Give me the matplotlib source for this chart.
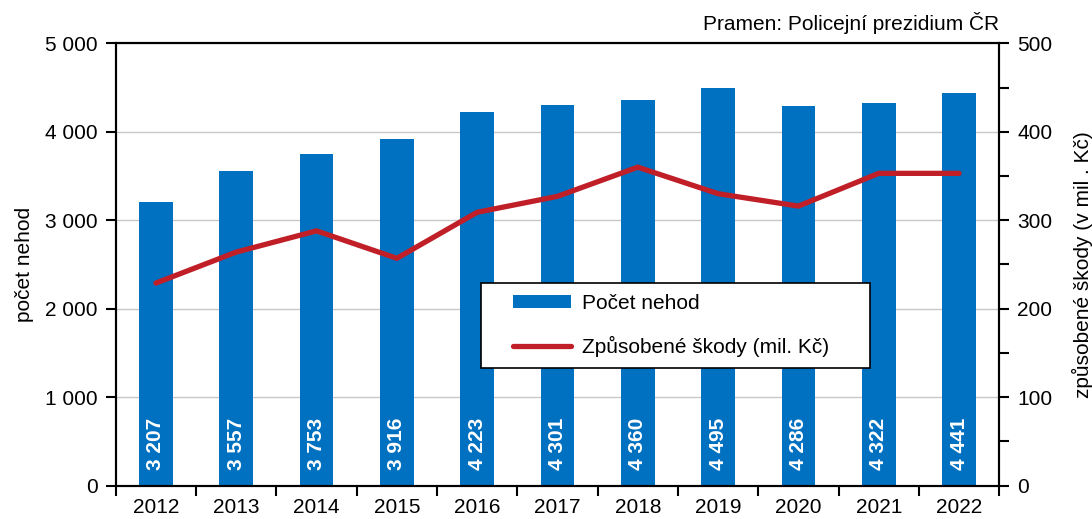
import numpy as np
import matplotlib
matplotlib.use('Agg')
import matplotlib.pyplot as plt
from matplotlib.patches import Rectangle
from matplotlib.ticker import MultipleLocator, FuncFormatter

# data
years = ['2012', '2013', '2014', '2015', '2016', '2017', '2018', '2019', '2020', '2021', '2022']
nehody = [3207, 3557, 3753, 3916, 4223, 4301, 4360, 4495, 4286, 4322, 4441]
skody = [229, 264, 288, 257, 309, 327, 360, 330, 316, 353, 353]

bar_color = '#0070C0'
line_color = '#C01F28'

plt.rcParams['font.family'] = ['Liberation Sans', 'DejaVu Sans']
plt.rcParams['font.size'] = 15

def thousands(v, pos):
    return '{:,.0f}'.format(v).replace(',', ' ')

W, H = 1092, 519
fig = plt.figure(figsize=(W / 100, H / 100), dpi=100)
ax = fig.add_axes([0.106, 0.0642, 0.809, 0.8524])
ax2 = ax.twinx()

x = np.arange(len(years))
bars = ax.bar(x, nehody, width=0.42, color=bar_color, zorder=2, label='Počet nehod')
line, = ax2.plot(x, skody, color=line_color, lw=3.8, solid_capstyle='round',
                 solid_joinstyle='miter', label='Způsobené škody (mil. Kč)')

# value labels inside bars
for xi, v in zip(x, nehody):
    ax.annotate(thousands(v, None), (xi, 0), xytext=(0, 11), textcoords='offset points',
                rotation=90, ha='center', va='bottom', color='white',
                fontweight='bold', fontsize=15, zorder=3)

ax.set_xlim(-0.5, len(years) - 0.5)
ax.set_ylim(0, 5000)
ax2.set_ylim(0, 500)

ax.set_xticks(x)
ax.set_xticklabels(years)
ax.set_xticks(np.arange(-0.5, len(years)), minor=True)
ax.tick_params(axis='x', which='major', length=0, pad=9)
ax.tick_params(axis='x', which='minor', length=7, width=1.5, direction='out')

ax.yaxis.set_major_locator(MultipleLocator(1000))
ax.yaxis.set_major_formatter(FuncFormatter(thousands))
ax.tick_params(axis='y', length=7, width=1.5, direction='out', pad=6)

ax2.yaxis.set_major_locator(MultipleLocator(100))
ax2.yaxis.set_minor_locator(MultipleLocator(50))
ax2.tick_params(axis='y', which='both', length=7, width=1.5, direction='out', pad=6)

ax.grid(axis='y', color='#c8c8c8', lw=1, zorder=0)
ax.set_axisbelow(True)

for a in (ax, ax2):
    for s in a.spines.values():
        s.set_linewidth(1.5)
        s.set_color('black')

ax.set_ylabel('počet nehod', labelpad=8)
ax2.set_ylabel('způsobené škody (v mil . Kč)', rotation=90, labelpad=14)

ax.text(1.0, 1.02, 'Pramen: Policejní prezidium ČR', transform=ax.transAxes,
        ha='right', va='bottom')

# legend box drawn separately so the padding matches the original
box = Rectangle((481 / W, 1 - 368 / H), 389 / W, 85 / H, transform=fig.transFigure,
                facecolor='white', edgecolor='black', lw=1.2, zorder=4, clip_on=False)
ax2.add_patch(box)
leg = ax2.legend([bars, line], ['Počet nehod', 'Způsobené škody (mil. Kč)'],
                 loc='upper left', bbox_to_anchor=(513 / W, 1 - 294 / H),
                 bbox_transform=fig.transFigure, frameon=False, borderpad=0,
                 labelspacing=1.1, handlelength=2.8, handleheight=0.6,
                 handletextpad=0.5, borderaxespad=0)
leg.set_zorder(5)

fig.savefig('out.png', dpi=100)
